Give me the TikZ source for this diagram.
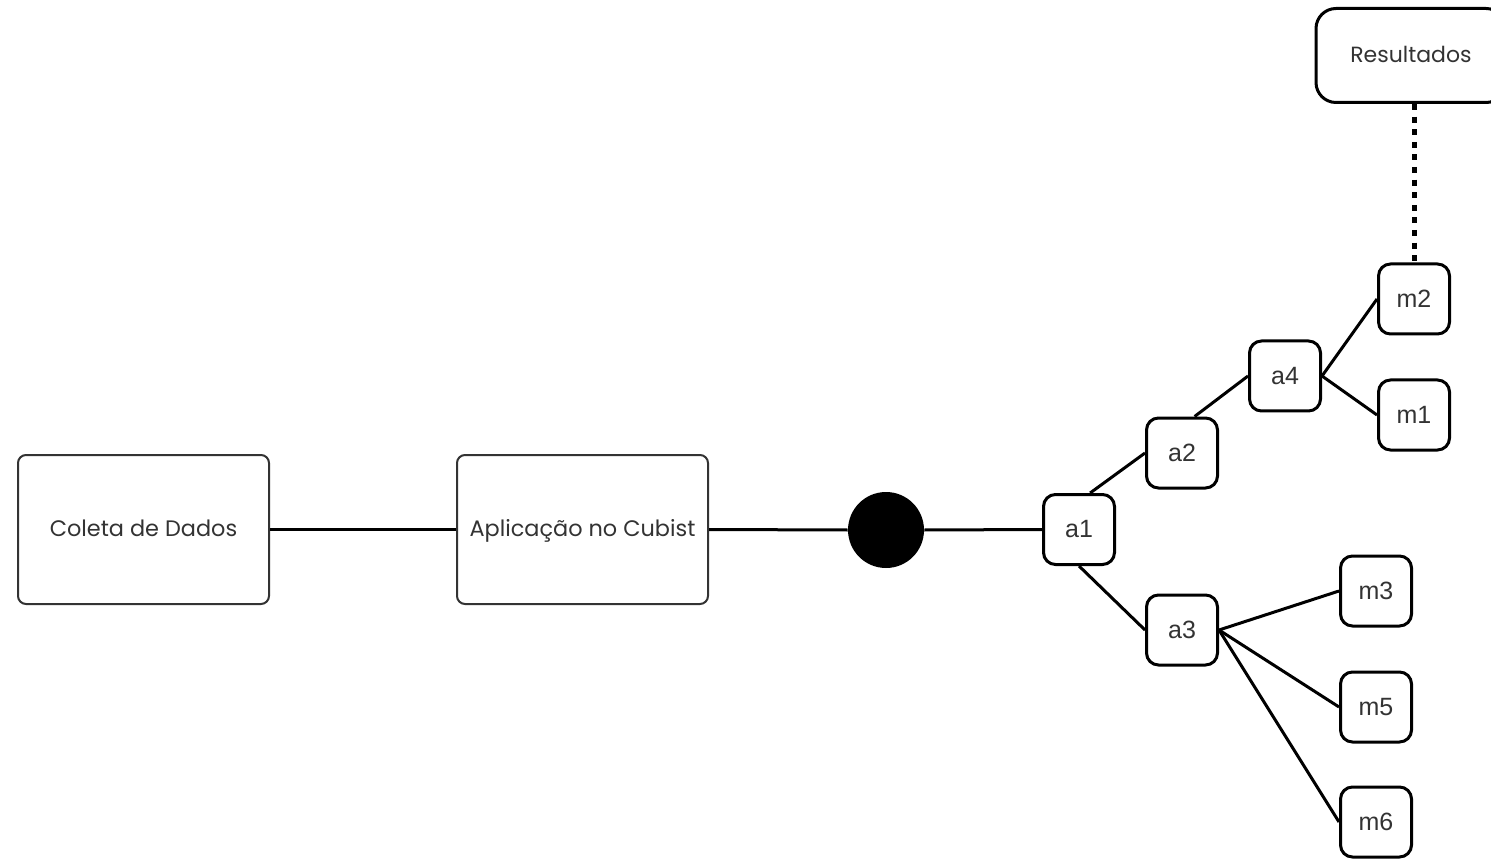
\documentclass[tikz,border=0pt]{standalone}
\usepackage{fontspec}
\setmainfont{Liberation Sans}
\newfontfamily\geofont{Poppins}
\usetikzlibrary{calc}
\definecolor{inkgray}{HTML}{333333}
\begin{document}
\begin{tikzpicture}[x=0.5pt,y=-0.5pt,
  stagebox/.style={draw=inkgray, line width=1pt, rounded corners=4pt,
    minimum width=125.5pt, minimum height=74.5pt, fill=white,
    text height=0.9em, text depth=0.2em,
    font=\geofont\fontsize{11.2}{13}\selectfont, text=inkgray},
  leaf/.style={draw=black, line width=1.5pt, rounded corners=6pt,
    minimum width=35.5pt, minimum height=35pt, fill=white,
    font=\fontsize{12.5}{14}\selectfont, text=inkgray},
  link/.style={line width=1.5pt},
  dotlink/.style={line width=2.5pt, dash pattern=on 3pt off 3.3pt}]
\useasboundingbox (0,0) rectangle (1491,860);
\clip (0,0) rectangle (1491,860);

% pipeline stages
\node[stagebox] (coleta) at (143.5,529.5) {Coleta de Dados};
\node[stagebox] (cubist) at (582.5,529.5) {Aplicação no Cubist};
\node[circle, fill=black, minimum size=38pt, inner sep=0pt] (hub) at (886,530) {};

% results box
\node[draw=black, line width=1.5pt, rounded corners=10pt, minimum width=95pt,
  minimum height=47pt, fill=white, text height=0.9em, text depth=0.2em,
  font=\geofont\fontsize{11}{13}\selectfont,
  text=inkgray] (res) at (1411,55.5) {Resultados};

% tree nodes
\node[leaf] (a1) at (1079,529.5) {a1};
\node[leaf] (a2) at (1182,453) {a2};
\node[leaf] (a4) at (1285,376) {a4};
\node[leaf] (m2) at (1414,299) {m2};
\node[leaf] (m1) at (1414,415) {m1};
\node[leaf] (a3) at (1182,630) {a3};
\node[leaf] (m3) at (1376,591) {m3};
\node[leaf] (m5) at (1376,707) {m5};
\node[leaf] (m6) at (1376,822) {m6};

% connectors
\draw[link] (coleta.east) -- (cubist.west);
\draw[link] (cubist.east) -- (hub.west);
\draw[link] (hub.east) -- (a1.west);
\draw[link] ($(a1.north west)!0.65!(a1.north east)$) -- (a2.west);
\draw[link] ($(a2.north west)!0.67!(a2.north east)$) -- (a4.west);
\draw[link] (a4.east) -- (m2.west);
\draw[link] (a4.east) -- (m1.west);
\draw[link] (a1.south) -- (a3.west);
\draw[link] (a3.east) -- (m3.west);
\draw[link] (a3.east) -- (m5.west);
\draw[link] (a3.east) -- (m6.west);
\draw[dotlink] (m2.north |- res.south) -- (m2.north);
\end{tikzpicture}
\end{document}
